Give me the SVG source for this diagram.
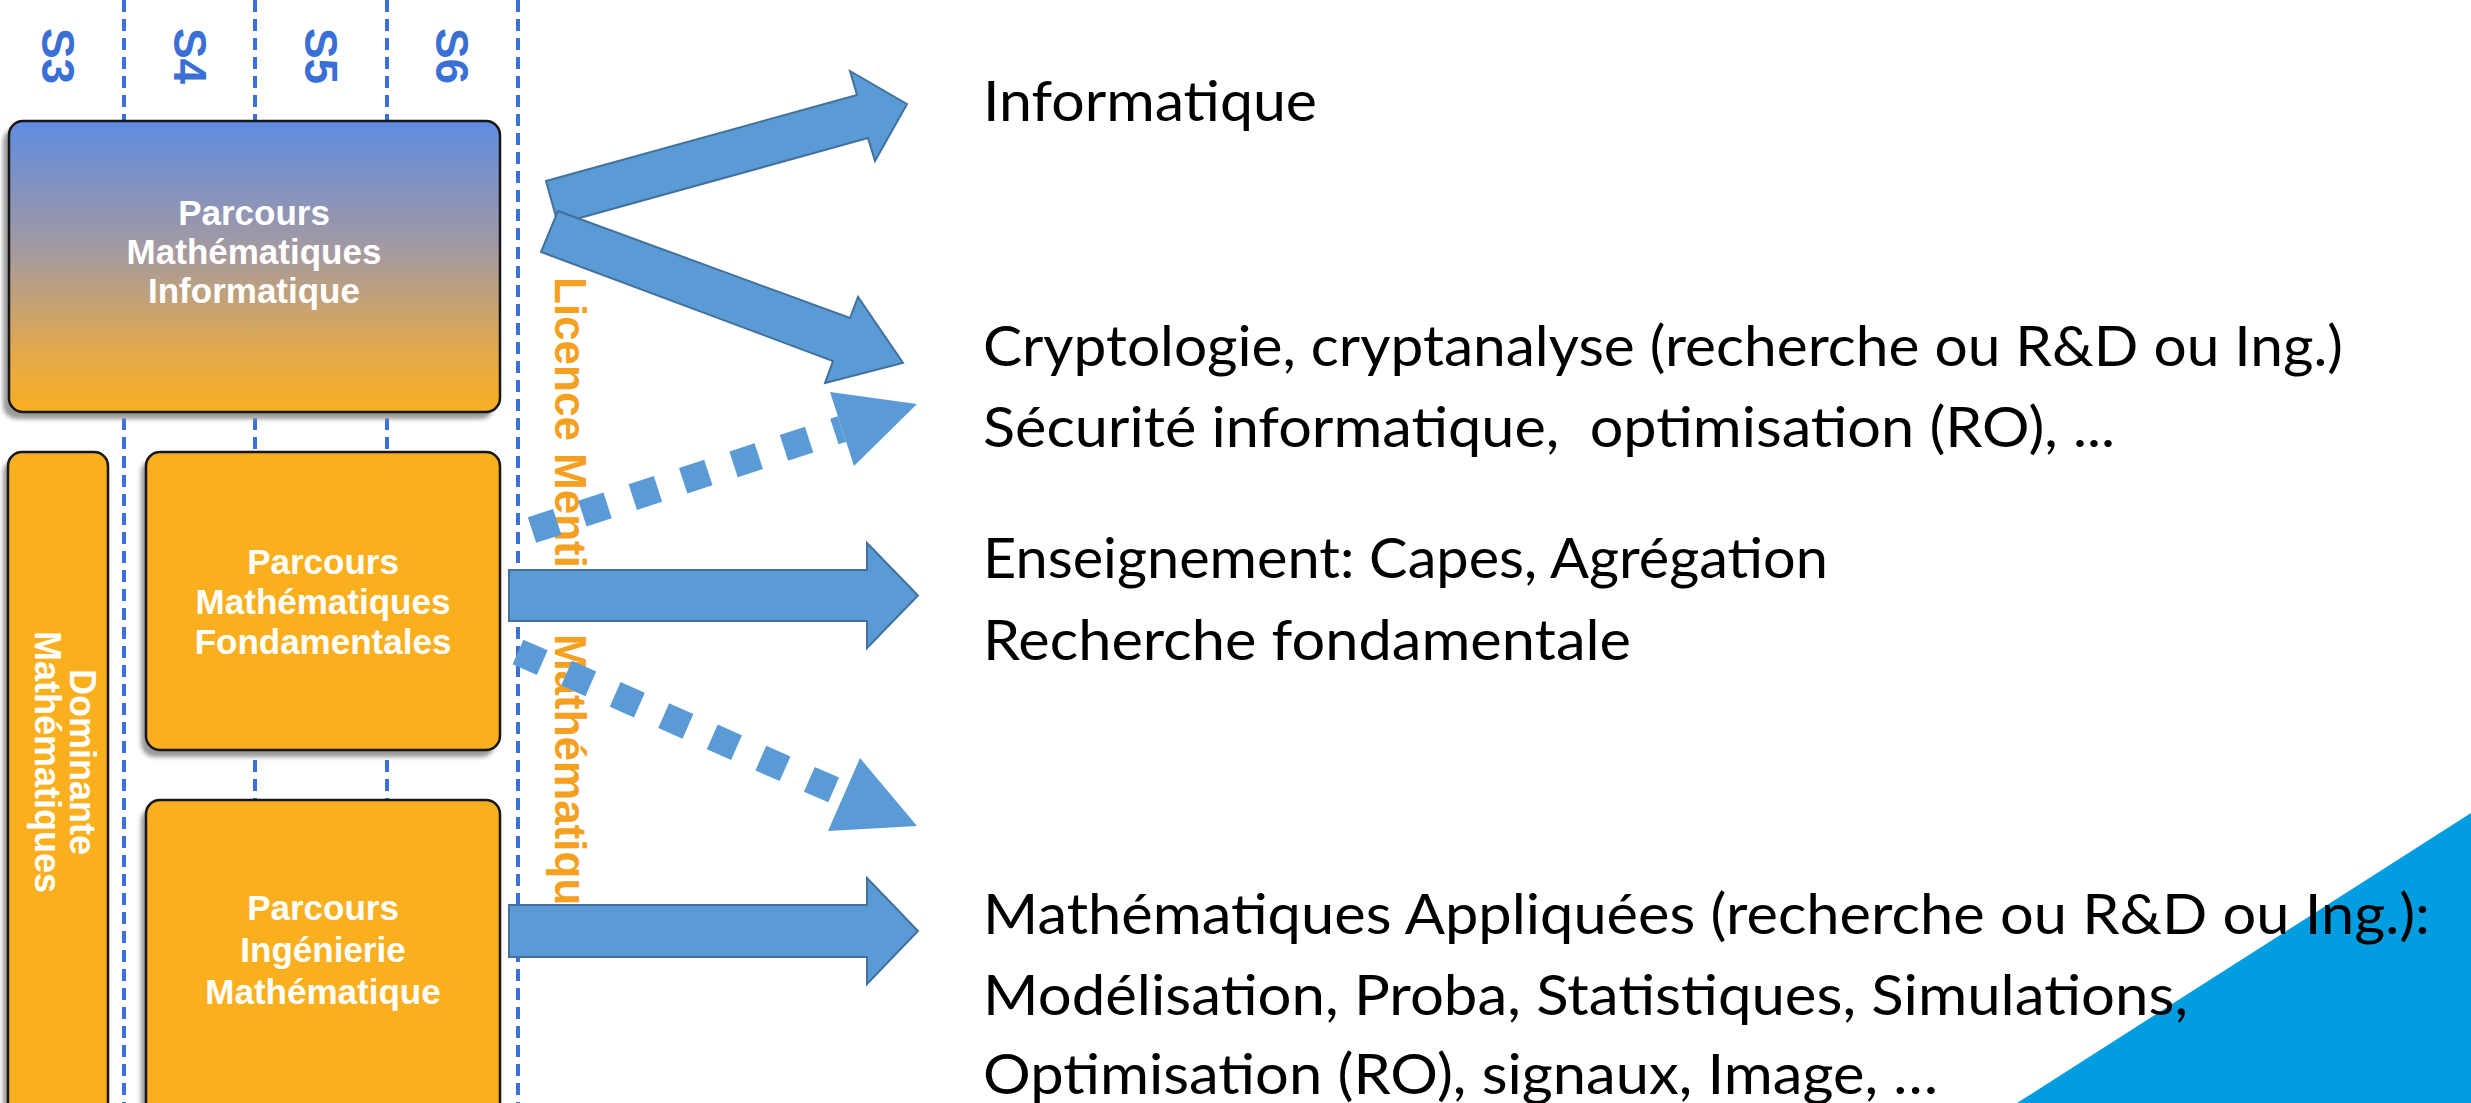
<svg xmlns="http://www.w3.org/2000/svg" width="2471" height="1103" viewBox="0 0 2471 1103">
<defs>
  <linearGradient id="gTop" x1="0" y1="0" x2="0" y2="1">
    <stop offset="0" stop-color="#5F8BE2"/>
    <stop offset="0.45" stop-color="#A59AA0"/>
    <stop offset="0.8" stop-color="#E4A94A"/>
    <stop offset="1" stop-color="#F9AF22"/>
  </linearGradient>
  <filter id="sh" x="-10%" y="-10%" width="120%" height="120%"><feGaussianBlur stdDeviation="2"/></filter>
</defs>
<style>
  .dash{stroke:#3B6FD9;stroke-width:4;stroke-dasharray:12 7;fill:none}
  .box{stroke:#161616;stroke-width:2.5}
  .org{fill:#FAAF1F}
  .shadow{fill:#9a9a9a;filter:url(#sh)}
  .bt{font-family:"Liberation Sans",Arial,sans-serif;font-weight:bold;fill:#fff;text-anchor:middle;font-size:35px}
  .sem{font-family:"Liberation Sans",Arial,sans-serif;font-weight:bold;fill:#3A6FD6;font-size:46px;text-anchor:middle}
  .lic{font-family:"Liberation Sans",Arial,sans-serif;font-weight:bold;fill:#F5A01E;font-size:44px}
  .arr{fill:#5B9BD5;stroke:#41719C;stroke-width:2;stroke-linejoin:miter}
  .dot{stroke:#5B9BD5;stroke-width:27;stroke-dasharray:26.5 26.5;fill:none}
  .head{fill:#5B9BD5}
  .rt{font-family:Lato,"Open Sans",sans-serif;font-size:57px;fill:#000;white-space:pre}
</style>
<rect width="2471" height="1103" fill="#fff"/>
<polygon points="2017,1103 2471,813 2471,1103" fill="#009EE0"/>

<g id="semesters">
  <line class="dash" x1="124" y1="0" x2="124" y2="1103"/>
  <line class="dash" x1="255" y1="0" x2="255" y2="1103"/>
  <line class="dash" x1="387" y1="0" x2="387" y2="1103"/>
  <line class="dash" x1="518" y1="0" x2="518" y2="1103"/>
  <text class="sem" transform="translate(58,56) rotate(90)" y="16">S3</text>
  <text class="sem" transform="translate(190,56) rotate(90)" y="16">S4</text>
  <text class="sem" transform="translate(321,56) rotate(90)" y="16">S5</text>
  <text class="sem" transform="translate(452,56) rotate(90)" y="16">S6</text>
</g>

<g id="node-informatique">
  <rect class="shadow" x="3" y="128" width="491" height="291" rx="14"/>
  <rect class="box" x="9" y="121" width="491" height="291" rx="14" fill="url(#gTop)"/>
  <text class="bt" x="254" y="225">Parcours</text>
  <text class="bt" x="254" y="264">Mathématiques</text>
  <text class="bt" x="254" y="303">Informatique</text>
</g>

<g id="node-dominante">
  <rect class="shadow" x="3" y="459" width="100" height="680" rx="14"/>
  <rect class="box org" x="8" y="452" width="100" height="680" rx="14"/>
  <text class="bt" transform="translate(0,762) rotate(90)" y="-70" style="font-size:36px">Dominante</text>
  <text class="bt" transform="translate(0,762) rotate(90)" y="-35" style="font-size:36px">Mathématiques</text>
</g>

<g id="node-fondamentales">
  <rect class="shadow" x="141" y="459" width="354" height="298" rx="14"/>
  <rect class="box org" x="146" y="452" width="354" height="298" rx="14"/>
  <text class="bt" x="323" y="574">Parcours</text>
  <text class="bt" x="323" y="614">Mathématiques</text>
  <text class="bt" x="323" y="654">Fondamentales</text>
</g>

<g id="node-ingenierie">
  <rect class="shadow" x="141" y="807" width="354" height="320" rx="14"/>
  <rect class="box org" x="146" y="800" width="354" height="320" rx="14"/>
  <text class="bt" x="323" y="920">Parcours</text>
  <text class="bt" x="323" y="962">Ingénierie</text>
  <text class="bt" x="323" y="1004">Mathématique</text>
</g>

<g id="licence-label">
  <text class="lic" transform="translate(555,277) rotate(90)">Licence Mention Mathématiques</text>
</g>

<g id="connectors">
  <polygon class="arr" points="546,181 857,95 850,71 907,104 875,161 868,138 558,224"/>
  <polygon class="arr" points="558,211 850,318 858,297 903,363 825,383 833,361 541,252"/>
  <line class="dot" x1="532" y1="530" x2="842" y2="429"/>
  <polygon class="head" points="830,392 917,404 854,466"/>
  <polygon class="arr" points="509,570 867,570 867,543 918,595.5 867,648 867,621 509,621"/>
  <line class="dot" x1="518" y1="652" x2="844" y2="794.5"/>
  <polygon class="head" points="860,758 917,826 828,831"/>
  <polygon class="arr" points="509,905 867,905 867,878 918,931 867,984 867,957 509,957"/>
</g>

<g id="outcomes">
  <text class="rt" x="983" y="121" textLength="334" lengthAdjust="spacingAndGlyphs">Informatique</text>
  <text class="rt" x="983" y="366" textLength="1360" lengthAdjust="spacingAndGlyphs">Cryptologie, cryptanalyse (recherche ou R&amp;D ou Ing.)</text>
  <text class="rt" x="983" y="447" textLength="1132" lengthAdjust="spacingAndGlyphs">Sécurité informatique,  optimisation (RO), ...</text>
  <text class="rt" x="983" y="578" textLength="845" lengthAdjust="spacingAndGlyphs">Enseignement: Capes, Agrégation</text>
  <text class="rt" x="983" y="660" textLength="648" lengthAdjust="spacingAndGlyphs">Recherche fondamentale</text>
  <text class="rt" x="983" y="934" textLength="1447" lengthAdjust="spacingAndGlyphs">Mathématiques Appliquées (recherche ou R&amp;D ou Ing.):</text>
  <text class="rt" x="983" y="1015" textLength="1205" lengthAdjust="spacingAndGlyphs">Modélisation, Proba, Statistiques, Simulations,</text>
  <text class="rt" x="983" y="1094" textLength="955" lengthAdjust="spacingAndGlyphs">Optimisation (RO), signaux, Image, …</text>
</g>
</svg>
